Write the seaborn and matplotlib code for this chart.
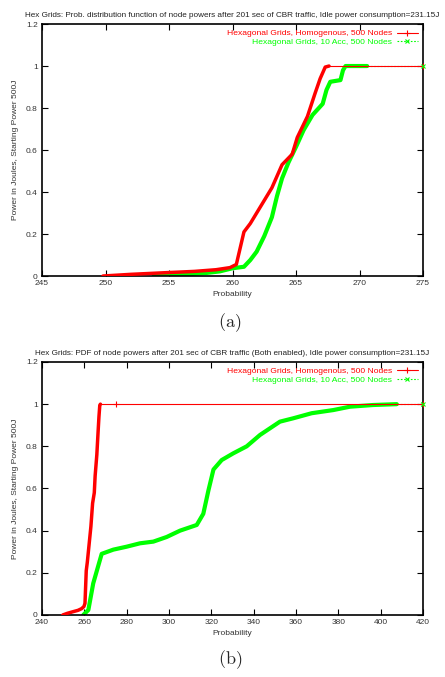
import numpy as np
import pandas as pd
import matplotlib
matplotlib.use("Agg")
import matplotlib.pyplot as plt
from matplotlib.lines import Line2D
import seaborn as sns

# valores
red_x = [249.8, 252.0, 254.8, 257.0, 258.7, 259.8, 260.3, 260.9, 261.4, 262.2, 263.1,
         263.9, 264.7, 265.1, 265.9, 266.5, 266.9, 267.3, 267.6]
red_y = [0.0, 0.008, 0.016, 0.022, 0.03, 0.04, 0.055, 0.21, 0.25, 0.33, 0.42,
         0.53, 0.58, 0.66, 0.76, 0.87, 0.94, 0.995, 1.0]
red_tail_x = [267.6, 275.0, 420.0]
red_tail_y = [1.0, 1.0, 1.0]

grn_a_x = [253.8, 255.0, 256.5, 258.0, 259.0, 260.0, 260.9, 261.4, 261.9, 262.5, 263.1,
           263.5, 263.9, 264.4, 265.0, 265.6, 266.3, 267.1, 267.4, 267.7, 268.5,
           268.7, 268.9, 270.6]
grn_a_y = [0.0, 0.004, 0.008, 0.015, 0.022, 0.037, 0.044, 0.076, 0.116, 0.19, 0.28,
           0.38, 0.465, 0.54, 0.615, 0.695, 0.767, 0.82, 0.886, 0.925, 0.933,
           0.98, 1.0, 1.0]
grn_a_tail_x = [270.6, 420.0]
grn_a_tail_y = [1.0, 1.0]

grn_b_x = [259.5, 261.9, 264.2, 268.2, 273.7, 280.0, 286.3, 292.6, 298.9, 305.2, 313.1,
           316.2, 318.6, 321.0, 324.9, 330.4, 336.7, 343.0, 352.4, 358.7, 367.4,
           377.6, 385.5, 396.5, 407.6]
grn_b_y = [0.0, 0.024, 0.15, 0.29, 0.31, 0.324, 0.34, 0.348, 0.37, 0.40, 0.427,
           0.48, 0.59, 0.69, 0.735, 0.767, 0.80, 0.854, 0.917, 0.933, 0.957,
           0.972, 0.988, 0.996, 1.0]
grn_b_tail_x = [407.6, 420.0]
grn_b_tail_y = [1.0, 1.0]

lbl_red = 'Hexagonal Grids, Homogenous, 500 Nodes'
lbl_grn = 'Hexagonal Grids, 10 Acc, 500 Nodes'

sns.set_theme(style='ticks')
plt.rcParams['font.family'] = ['Liberation Sans', 'DejaVu Sans']
plt.rcParams['mathtext.fontset'] = 'cm'

fig = plt.figure(figsize=(4.45, 6.77), dpi=100)
ax_a = fig.add_axes([0.0944, 0.5923, 0.8562, 0.3722])
ax_b = fig.add_axes([0.0944, 0.0916, 0.8562, 0.3737])

ROJO = '#ff0000'
VERDE = '#00ff00'


def dibujar(ax, gx, gy, gtx, gty, titulo, xlim, xticks):
    sns.lineplot(x=red_x, y=red_y, ax=ax, color=ROJO, lw=2.5, sort=False, zorder=3)
    sns.lineplot(x=red_tail_x, y=red_tail_y, ax=ax, color=ROJO, lw=0.8, sort=False,
                 marker='+', markersize=4, markeredgewidth=0.8, markeredgecolor=ROJO,
                 markevery=[1, 2], zorder=3)
    sns.lineplot(x=gx, y=gy, ax=ax, color=VERDE, lw=3.0, sort=False, zorder=2)
    sns.lineplot(x=gtx, y=gty, ax=ax, color=VERDE, lw=0.8, sort=False, ls=(0, (1.5, 1.5)),
                 marker='x', markersize=3.5, markeredgewidth=0.8, markeredgecolor=VERDE,
                 markevery=[len(gtx) - 1], zorder=2)
    # marca en el borde derecho
    ax.plot([xlim[1]], [1.0], ls='none', marker='x', ms=3.5, mew=0.8, color=VERDE,
            clip_on=False, zorder=4)
    ax.set_xlim(*xlim)
    ax.set_ylim(0, 1.2)
    ax.set_xticks(xticks)
    ax.set_xticklabels([str(t) for t in xticks])
    ax.set_yticks([0, 0.2, 0.4, 0.6, 0.8, 1, 1.2])
    ax.set_yticklabels(['0', '0.2', '0.4', '0.6', '0.8', '1', '1.2'])
    ax.tick_params(direction='in', length=4, width=0.8, top=True, right=True,
                   labelsize=6, colors='black', labelcolor='#333333', pad=3)
    for s in ax.spines.values():
        s.set_visible(True)
        s.set_linewidth(1.2)
        s.set_color('black')
    ax.set_title(titulo, fontsize=5.85, pad=5, color='#222222')
    ax.set_xlabel('Probability', fontsize=6, labelpad=3, color='#333333')
    ax.set_ylabel('Power in Joules, Starting Power 500J', fontsize=6, labelpad=5, color='#333333')
    handles = [
        Line2D([], [], color=ROJO, lw=0.8, marker='+', ms=4, mew=0.8),
        Line2D([], [], color=VERDE, lw=0.8, ls=(0, (1.5, 1.5)), marker='x', ms=3.5, mew=0.8),
    ]
    ax.legend(handles, [lbl_red, lbl_grn], loc='upper right', frameon=False,
              markerfirst=False, fontsize=6.1, labelcolor='linecolor', numpoints=1,
              handlelength=2.4, handletextpad=0.6, borderaxespad=0.25, labelspacing=0.05)
    ax.grid(False)


dibujar(ax_a, grn_a_x, grn_a_y, grn_a_tail_x, grn_a_tail_y,
        'Hex Grids: Prob. distribution function of node powers after 201 sec of CBR traffic, Idle power consumption=231.15J',
        (245, 275), [245, 250, 255, 260, 265, 270, 275])
dibujar(ax_b, grn_b_x, grn_b_y, grn_b_tail_x, grn_b_tail_y,
        'Hex Grids: PDF of node powers after 201 sec of CBR traffic (Both enabled), Idle power consumption=231.15J',
        (240, 420), [240, 260, 280, 300, 320, 340, 360, 380, 400, 420])

fig.text(0.517, 1 - 323 / 677, r'$\mathrm{(a)}$', ha='center', va='center', fontsize=13)
fig.text(0.517, 1 - 660 / 677, r'$\mathrm{(b)}$', ha='center', va='center', fontsize=13)

fig.savefig('out.png', dpi=100, facecolor='white')
